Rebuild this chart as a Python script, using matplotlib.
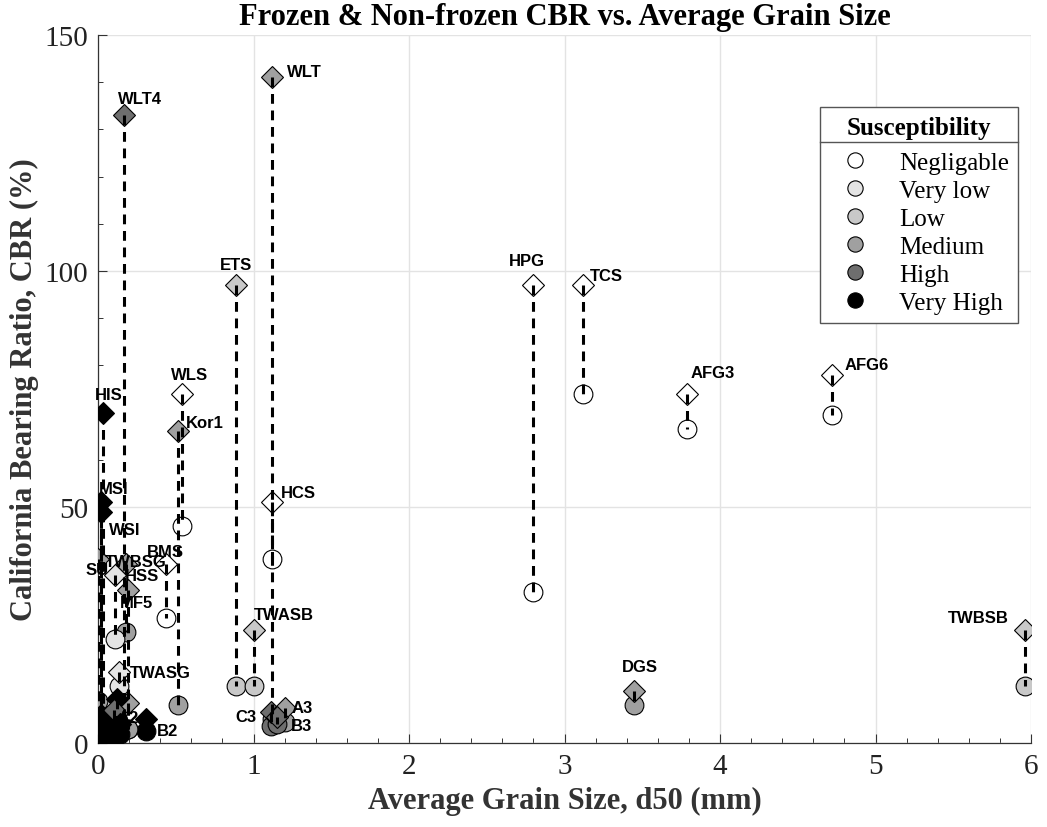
import matplotlib
matplotlib.use("Agg")
import matplotlib.pyplot as plt
from matplotlib.lines import Line2D
from matplotlib.ticker import MultipleLocator

# ---- data -------------------------------------------------------------
classes = ["Negligable", "Very low", "Low", "Medium", "High", "Very High"]
class_colors = ["#ffffff", "#e4e4e4", "#c8c8c8", "#a0a0a0", "#6e6e6e", "#000000"]

names = ["WLT", "WLT4", "ETS", "HPG", "TCS", "AFG3", "AFG6", "WLS", "Kor1",
         "HIS", "MSI", "WSI", "HCS", "BMS", "TWBSG", "SU", "HSS", "MF5",
         "TWASG", "TWASB", "DGS", "TWBSB", "C3", "A3", "B3", "B2", "A2",
         "", "", "", "", "", "", "", ""]
d50 = [1.12, 0.165, 0.89, 2.80, 3.12, 3.79, 4.72, 0.54, 0.515,
       0.03, 0.02, 0.02, 1.12, 0.44, 0.18, 0.0, 0.11, 0.19,
       0.135, 1.0, 3.45, 5.96, 1.11, 1.20, 1.15, 0.31, 0.19,
       0.12, 0.02, 0.05, 0.08, 0.10, 0.14, 0.0, 0.06]
cbr_frozen = [141, 133, 97, 97, 97, 74, 78, 74, 66,
              70, 51, 49, 51, 38, 38, 39, 35.5, 32.5,
              15, 24, 11, 24, 6.5, 7.5, 5.5, 5, 8.5,
              9.3, 6, 4, 3, 7, 4, 3, 2]
cbr_unfrozen = [5, 3, 12, 32, 74, 66.5, 69.5, 46, 8,
                2, 1, 3, 39, 26.5, 23.5, 9, 22, 3,
                12, 12, 8, 12, 3.5, 4.5, 4, 2.5, 3,
                5, 1, 1.5, 1, 2, 2, 0.5, 0.5]
frozen_class = [3, 4, 2, 0, 0, 0, 0, 0, 3,
                5, 5, 5, 0, 0, 3, 3, 1, 3,
                1, 2, 3, 2, 4, 3, 4, 5, 3,
                5, 5, 5, 5, 4, 5, 5, 5]
unfrozen_class = [3, 4, 2, 0, 0, 0, 0, 0, 3,
                  5, 5, 5, 0, 0, 3, 3, 1, 3,
                  1, 2, 3, 2, 4, 3, 4, 5, 3,
                  5, 5, 5, 5, 4, 5, 5, 5]

# label placement: pixel offset from the frozen marker and alignment
label_offsets = {
    "WLT": (15, 6, "left"), "WLT4": (-6, 17, "left"), "ETS": (0, 21, "center"),
    "HPG": (-7, 25, "center"), "TCS": (7, 10, "left"), "AFG3": (3, 21, "left"),
    "AFG6": (13, 10, "left"), "WLS": (8, 19, "center"), "Kor1": (8, 9, "left"),
    "HIS": (6, 18, "center"), "MSI": (-2, 14, "left"), "WSI": (8, -18, "left"),
    "HCS": (9, 10, "left"), "BMS": (-1, 12, "center"), "TWBSG": (10, 2, "center"),
    "SU": (-1, -11, "center"), "HSS": (10, 0, "left"), "MF5": (-8, -13, "left"),
    "TWASG": (11, 0, "left"), "TWASB": (0, 15, "left"), "DGS": (5, 25, "center"),
    "TWBSB": (-16, 12, "right"), "C3": (-14, -4, "right"), "A3": (7, 0, "left"),
    "B3": (14, -8, "left"), "B2": (11, -11, "left"), "A2": (-10, -15, "left"),
}

serif = ["Liberation Serif", "DejaVu Serif"]
sans = ["Liberation Sans", "DejaVu Sans"]

fig = plt.figure(figsize=(10.47, 8.28), dpi=100)
ax = fig.add_axes([98 / 1047, 84 / 828, 933 / 1047, 708 / 828])

# connecting dashed lines drawn above markers
for x, f, u in zip(d50, cbr_frozen, cbr_unfrozen):
    ax.plot([x, x], [f, u], color="black", lw=2.2, ls=(0, (3.2, 2.2)),
            zorder=4, solid_capstyle="butt", dash_capstyle="butt")

for x, u, c in zip(d50, cbr_unfrozen, unfrozen_class):
    ax.plot(x, u, marker="o", ms=13.5, mfc=class_colors[c], mec="black",
            mew=0.8, ls="none", zorder=3)
for x, f, c in zip(d50, cbr_frozen, frozen_class):
    ax.plot(x, f, marker="D", ms=11.5, mfc=class_colors[c], mec="black",
            mew=0.8, ls="none", zorder=3)

for n, x, f in zip(names, d50, cbr_frozen):
    if not n:
        continue
    dx, dy, ha = label_offsets[n]
    ax.annotate(n, (x, f), xytext=(dx, dy), textcoords="offset pixels",
                ha=ha, va="center", fontsize=12, fontweight="bold",
                family=sans, zorder=5)

ax.set_xlim(0, 6)
ax.set_ylim(0, 150)
ax.xaxis.set_major_locator(MultipleLocator(1))
ax.xaxis.set_minor_locator(MultipleLocator(0.2))
ax.yaxis.set_major_locator(MultipleLocator(50))
ax.yaxis.set_minor_locator(MultipleLocator(10))
ax.grid(True, which="major", color="#e3e3e3", lw=1.0, zorder=0)
ax.set_axisbelow(True)
for s in ("top", "right"):
    ax.spines[s].set_visible(False)
for s in ("left", "bottom"):
    ax.spines[s].set_color("#333333")
    ax.spines[s].set_linewidth(0.9)
ax.tick_params(which="both", direction="in", colors="#333333",
               labelcolor="#222222", labelsize=21, pad=7)
ax.tick_params(which="major", length=6.5, width=0.8)
ax.tick_params(which="minor", length=3.5, width=0.7)
for lab in ax.get_xticklabels() + ax.get_yticklabels():
    lab.set_family(serif)

ax.set_xlabel("Average Grain Size, d50 (mm)", fontsize=22, fontweight="bold",
              family=serif, color="#333333", labelpad=5)
ax.set_ylabel("California Bearing Ratio, CBR (%)", fontsize=22,
              fontweight="bold", family=serif, color="#333333", labelpad=4)
fig.text(565 / 1047, 1 - 18 / 828,
         "Frozen & Non-frozen CBR vs. Average Grain Size",
         ha="center", va="center", fontsize=22, fontweight="bold",
         family=serif)

handles = [Line2D([], [], marker="o", ls="none", ms=11, mfc=col, mec="black",
                  mew=0.8) for col in class_colors]
leg = ax.legend(handles, classes, title="Susceptibility",
                loc="upper left", bbox_to_anchor=(0.774, 0.898),
                prop={"family": serif, "size": 18}, frameon=True,
                fancybox=False, edgecolor="#555555", framealpha=1,
                handletextpad=0.7, labelspacing=0.22, borderpad=0.35,
                handlelength=2.1, borderaxespad=0)
leg.get_title().set_fontproperties({"family": serif, "size": 18,
                                    "weight": "bold"})
leg.get_frame().set_linewidth(1.0)
leg.set_zorder(10)
# extra room between the title row and the entries
leg._legend_box.sep += 5

# separator line under the legend title
fig.canvas.draw()
lbb = leg.get_window_extent()
tbb = leg.get_title().get_window_extent()
ysep = tbb.y0 - 3
inv = fig.transFigure.inverted()
(x0, y0) = inv.transform((lbb.x0, ysep))
(x1, _) = inv.transform((lbb.x1, ysep))
fig.add_artist(Line2D([x0, x1], [y0, y0], color="#555555", lw=1.0,
                      transform=fig.transFigure, zorder=11))

fig.savefig("out.png", dpi=100)
